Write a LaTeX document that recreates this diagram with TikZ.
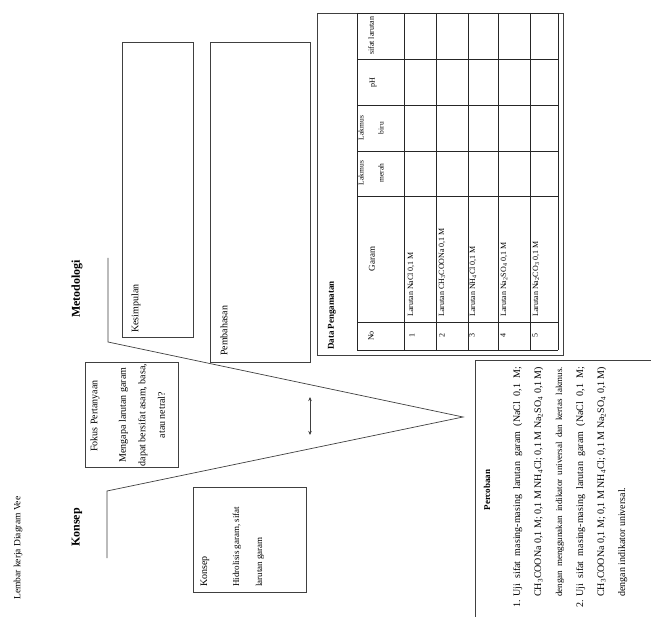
\documentclass[tikz,border=0pt]{standalone}
\usepackage{fontspec}
\setmainfont{Liberation Serif}
\usetikzlibrary{arrows.meta}
\begin{document}
\begin{tikzpicture}[x=1pt,y=1pt,
  ln/.style={draw=black!75, line width=0.7pt},
  boxnode/.style={draw=black!75, line width=0.7pt, inner sep=0pt, outer sep=0pt, anchor=north west},
  rt/.style={rotate=90, inner sep=0pt},
  ften/.style={font=\fontsize{10}{12}\selectfont},
  fnine/.style={font=\fontsize{9}{11}\selectfont},
  feight/.style={font=\fontsize{8}{10}\selectfont},
  fsmall/.style={font=\fontsize{7.5}{9}\selectfont},
  fhead/.style={font=\fontsize{12}{14}\selectfont\bfseries},
  fbold/.style={font=\fontsize{9}{11}\selectfont\bfseries}
]
\useasboundingbox (0,0) rectangle (651,-617);
\fill[white] (0,0) rectangle (651,-617);

% ---- Vee ----
\coordinate (ut) at (108,-258);
\coordinate (uc) at (108,-342);
\coordinate (apex) at (463,-417);
\coordinate (lc) at (107,-491);
\coordinate (lt) at (107,-558);
\draw[ln] (ut) -- (uc) -- (apex) -- (lc) -- (lt);
\coordinate (a1) at (310,-397);
\coordinate (a2) at (310,-435);
\draw[ln, {Stealth[length=4pt,width=3.5pt]}-{Stealth[length=4pt,width=3.5pt]}] (a1) -- (a2);

% ---- labels ----
\node[rt, font=\fontsize{9.5}{11}\selectfont, anchor=west] (title) at (18,-600) {Lembar kerja Diagram Vee};
\node[rt, fhead, anchor=west] (konseplabel) at (77,-547) {Konsep};
\node[rt, fhead, anchor=west] (metolabel) at (77,-318) {Metodologi};

% ---- Fokus box ----
\node[boxnode, minimum width=93, minimum height=105] (fokus) at (85,-362) {};
\node[rt, ften, anchor=center] (fokushead) at (95,-416) {Fokus Pertanyaan};
\node[rt, font=\fontsize{10}{19.5}\selectfont, align=center, anchor=center] (fokustext) at (142,-415)
  {Mengapa larutan garam\\dapat bersifat asam, basa,\\atau netral?};

% ---- Konsep box ----
\node[boxnode, minimum width=113, minimum height=105] (konsep) at (193,-487) {};
\node[rt, ften, anchor=west] (konsephead) at (205,-587) {Konsep};
\node[rt, font=\fontsize{9}{11}\selectfont, anchor=west] (konsepl1) at (237,-587) {Hidrolisis garam, sifat};
\node[rt, font=\fontsize{9}{11}\selectfont, anchor=west] (konsepl2) at (260,-587) {larutan garam};

% ---- Kesimpulan / Pembahasan ----
\node[boxnode, minimum width=71, minimum height=295] (kesimpulan) at (122,-42) {};
\node[rt, ften, anchor=west] (kesimpulantext) at (136,-333) {Kesimpulan};
\node[boxnode, minimum width=100, minimum height=320] (pembahasan) at (210,-42) {};
\node[rt, ften, anchor=west] (pembahasantext) at (224,-356) {Pembahasan};

% ---- Data Pengamatan ----
\node[boxnode, minimum width=246, minimum height=342] (data) at (317,-13) {};
\node[rt, fbold, anchor=west] (datatext) at (332,-350) {Data Pengamatan};
\foreach \yy in {13,59,105,151,196,322,350} \draw[ln, draw=black!85] (357,-\yy) -- (558,-\yy);
\foreach \xx in {357,404,436,468,498,530,558} \draw[ln, draw=black!85] (\xx,-13) -- (\xx,-350);

\node[rt, feight, anchor=center] (hno) at (371,-336) {No};
\node[rt, fnine, anchor=center] (hgaram) at (372,-259) {Garam};
\node[rt, fsmall, anchor=center] (hlm1) at (361,-173) {Lakmus};
\node[rt, fsmall, anchor=center] (hlm2) at (381,-173) {merah};
\node[rt, fsmall, anchor=center] (hlb1) at (361,-128) {Lakmus};
\node[rt, fsmall, anchor=center] (hlb2) at (381,-128) {biru};
\node[rt, feight, anchor=center] (hph) at (373,-83) {pH};
\node[rt, feight, anchor=center] (hsifat) at (371,-36) {sifat larutan};

\node[rt, feight, anchor=center] (n1) at (412,-336) {1};
\node[rt, feight, anchor=center] (n2) at (442,-336) {2};
\node[rt, feight, anchor=center] (n3) at (472,-336) {3};
\node[rt, feight, anchor=center] (n4) at (503,-336) {4};
\node[rt, feight, anchor=center] (n5) at (535,-336) {5};
\node[rt, feight, anchor=west] (r1) at (411,-317) {Larutan NaCl 0,1 M};
\node[rt, feight, anchor=west] (r2) at (442,-317) {Larutan CH\textsubscript{3}COONa 0,1 M};
\node[rt, feight, anchor=west] (r3) at (473,-317) {Larutan NH\textsubscript{4}Cl 0,1 M};
\node[rt, feight, anchor=west] (r4) at (504,-317) {Larutan Na\textsubscript{2}SO\textsubscript{4} 0,1 M};
\node[rt, feight, anchor=west] (r5) at (536,-317) {Larutan Na\textsubscript{2}CO\textsubscript{3} 0,1 M};

% ---- Percobaan ----
\coordinate (pb) at (475,-617);
\coordinate (pc) at (475,-360);
\coordinate (pr) at (651,-360);
\draw[ln] (pb) -- (pc) -- (pr);
\node[rt, fbold, anchor=center] (percobaan) at (487,-490) {Percobaan};
\node[rt, font=\fontsize{10}{21}\selectfont, align=left, anchor=north west] (list) at (513,-608)
{\makebox[11pt][l]{1.}\makebox[230pt][s]{Uji sifat masing-masing larutan garam (NaCl 0,1 M;}\\
\hspace*{11pt}\makebox[230pt][s]{CH\textsubscript{3}COONa 0,1 M; 0,1 M NH\textsubscript{4}Cl; 0,1 M Na\textsubscript{2}SO\textsubscript{4} 0,1 M)}\\
\hspace*{11pt}\makebox[230pt][s]{\fontsize{9}{21}\selectfont dengan menggunakan indikator universal dan kertas lakmus.}\\
\makebox[11pt][l]{2.}\makebox[230pt][s]{Uji sifat masing-masing larutan garam (NaCl 0,1 M;}\\
\hspace*{11pt}\makebox[230pt][s]{CH\textsubscript{3}COONa 0,1 M; 0,1 M NH\textsubscript{4}Cl; 0,1 M Na\textsubscript{2}SO\textsubscript{4} 0,1 M)}\\
\hspace*{11pt}dengan indikator universal.};
\end{tikzpicture}
\end{document}
